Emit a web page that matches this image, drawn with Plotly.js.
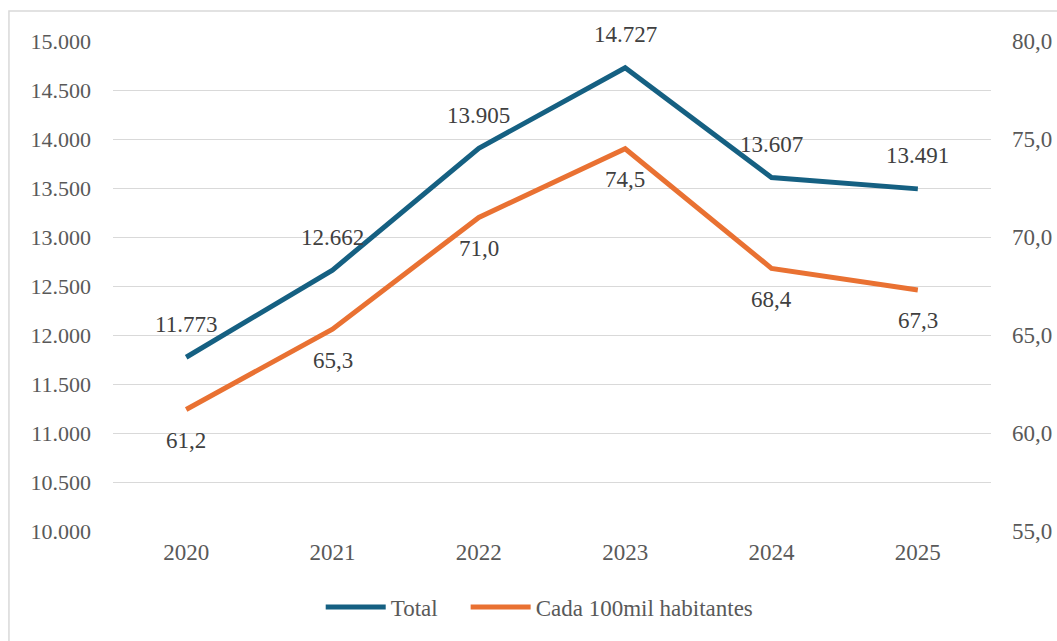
<!DOCTYPE html>
<html>
<head>
<meta charset="utf-8">
<script src="https://cdn.plot.ly/plotly-3.0.1.min.js"></script>
<style>
  html, body { margin: 0; padding: 0; background: #ffffff; }
  #chart { width: 1057px; height: 641px; }
</style>
</head>
<body>
<div id="chart"></div>
<script>
const years = ['2020', '2021', '2022', '2023', '2024', '2025'];
const totalValues = [11773, 12662, 13905, 14727, 13607, 13491];
const rateValues = [61.2, 65.3, 71.0, 74.5, 68.4, 67.3];
const seriesNames = ['Total', 'Cada 100mil habitantes'];

const FONT = 'Liberation Serif';
const BLUE = '#156082';
const ORANGE = '#E97132';

function fmtThousands(v) {
  return String(v).replace(/\B(?=(\d{3})+(?!\d))/g, '.');
}
function fmtDecimal(v) {
  return v.toFixed(1).replace('.', ',');
}

const traces = [
  {
    type: 'scatter', mode: 'lines', name: seriesNames[0] + '\u00a0\u00a0\u00a0\u00a0',
    x: years, y: totalValues, yaxis: 'y',
    line: { color: BLUE, width: 5 },
    hoverinfo: 'skip'
  },
  {
    type: 'scatter', mode: 'lines', name: seriesNames[1],
    x: years, y: rateValues, yaxis: 'y2',
    line: { color: ORANGE, width: 5 },
    hoverinfo: 'skip'
  }
];

const annotations = [];
years.forEach((yr, i) => {
  annotations.push({
    x: i, y: totalValues[i], xref: 'x', yref: 'y',
    text: fmtThousands(totalValues[i]), showarrow: false,
    yshift: 33, font: { family: FONT, size: 23, color: '#404040' }
  });
  annotations.push({
    x: i, y: rateValues[i], xref: 'x', yref: 'y2',
    text: fmtDecimal(rateValues[i]), showarrow: false,
    yshift: -31, font: { family: FONT, size: 23, color: '#404040' }
  });
});

const layout = {
  width: 1057, height: 641,
  margin: { l: 113, r: 66, t: 41, b: 110 },
  paper_bgcolor: '#ffffff', plot_bgcolor: '#ffffff',
  separators: ',.',
  font: { family: FONT, size: 22, color: '#595959' },
  showlegend: true,
  legend: {
    orientation: 'h', x: 0.486, xanchor: 'center', y: -0.155, yanchor: 'middle',
    font: { family: FONT, size: 23, color: '#595959' },
    itemwidth: 60, traceorder: 'normal'
  },
  xaxis: {
    type: 'category', categoryorder: 'array', categoryarray: years,
    range: [-0.5, years.length - 0.5], autorange: false,
    showgrid: false, zeroline: false,
    showline: false, ticks: '', ticklabelstandoff: 5,
    tickfont: { family: FONT, size: 23, color: '#595959' }
  },
  yaxis: {
    range: [10000, 15000], autorange: false, tick0: 10000, dtick: 500,
    tickformat: ',d', showgrid: true, gridcolor: '#d9d9d9', gridwidth: 1,
    zeroline: false, showline: false, ticks: '', ticklabelstandoff: 21,
    tickfont: { family: FONT, size: 22, color: '#595959' }
  },
  yaxis2: {
    overlaying: 'y', side: 'right',
    range: [55, 80], autorange: false, tick0: 55, dtick: 5, tickformat: '.1f',
    showgrid: false, zeroline: false, showline: false, ticks: '', ticklabelstandoff: 20,
    tickfont: { family: FONT, size: 23, color: '#595959' }
  },
  annotations: annotations,
  shapes: [{
    type: 'rect', xref: 'paper', yref: 'paper',
    x0: -0.1185, x1: 1.09, y0: -0.25, y1: 1.0612,
    line: { color: '#d9d9d9', width: 1.5 }, fillcolor: 'rgba(0,0,0,0)', layer: 'below'
  }]
};

Plotly.newPlot('chart', traces, layout, { displayModeBar: false, staticPlot: true });
</script>
</body>
</html>
